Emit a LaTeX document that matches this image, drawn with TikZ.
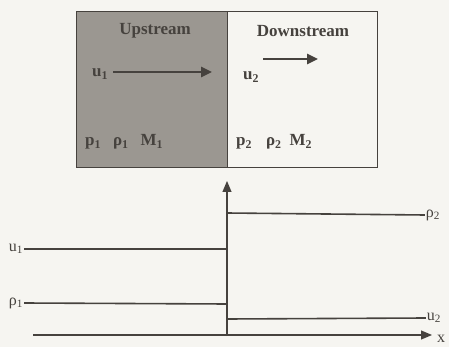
\documentclass[tikz,border=0pt]{standalone}
\usepackage{fontspec}
\setmainfont{Liberation Serif}
\usetikzlibrary{arrows.meta}
\definecolor{ink}{RGB}{70,66,62}
\definecolor{upgray}{RGB}{155,151,145}
\definecolor{paper}{RGB}{246,245,241}
\tikzset{
  lbl/.style={text=ink,font=\bfseries\fontsize{17}{19}\selectfont,inner sep=1pt},
  axlbl/.style={text=ink,font=\fontsize{16}{18}\selectfont,inner sep=1pt},
  flow/.style={draw=ink,line width=2.6pt,-{Triangle[length=11pt,width=10pt]}},
  level/.style={draw=ink,line width=1.6pt},
  axis/.style={draw=ink,line width=1.1pt,-{Triangle[length=11pt,width=9pt]}},
}
\begin{document}
\begin{tikzpicture}[x=1pt,y=-1pt]
\useasboundingbox[fill=paper] (0,0) rectangle (449,347);
% box
\fill[upgray] (76,12) rectangle (227,168);
\draw[ink,line width=1pt] (76,12) rectangle (377,168);
\draw[ink,line width=1pt] (227,12) -- (227,168);
\node[lbl] (up) at (155,31) {Upstream};
\node[lbl] (down) at (303,31) {Downstream};
\node[lbl] (u1) at (100,74) {u\textsubscript{1}};
\coordinate (a1s) at (113,72);
\coordinate (a1e) at (212,72);
\draw[flow] (a1s) -- (a1e);
\node[lbl] (u2) at (251,77) {u\textsubscript{2}};
\coordinate (a2s) at (263,59);
\coordinate (a2e) at (318,59);
\draw[flow] (a2s) -- (a2e);
\node[lbl,anchor=west] (s1) at (84,142) {p\textsubscript{1}\hspace{12pt}ρ\textsubscript{1}\hspace{12pt}M\textsubscript{1}};
\node[lbl,anchor=west] (s2) at (235,142) {p\textsubscript{2}\hspace{14pt}ρ\textsubscript{2}\hspace{8pt}M\textsubscript{2}};
% graph
\coordinate (o) at (227,336);
\coordinate (top) at (227,181);
\draw[axis] (o) -- (top);
\coordinate (xs) at (33,335);
\coordinate (xe) at (432,335);
\draw[axis] (xs) -- (xe);
\node[axlbl] (xl) at (441,339) {x};
\node[axlbl] (r2) at (433,215) {ρ\textsubscript{2}};
\coordinate (r2s) at (227,213);
\draw[level] (r2s) -- (r2.west);
\node[axlbl] (lu1) at (16,249) {u\textsubscript{1}};
\coordinate (u1e) at (227,249);
\draw[level] (lu1.east) -- (u1e);
\node[axlbl] (lr1) at (16,303) {ρ\textsubscript{1}};
\coordinate (r1e) at (227,304);
\draw[level] (lr1.east) -- (r1e);
\node[axlbl] (lu2) at (434,318) {u\textsubscript{2}};
\coordinate (u2s) at (227,319);
\draw[level] (u2s) -- (lu2.west);
\end{tikzpicture}
\end{document}
